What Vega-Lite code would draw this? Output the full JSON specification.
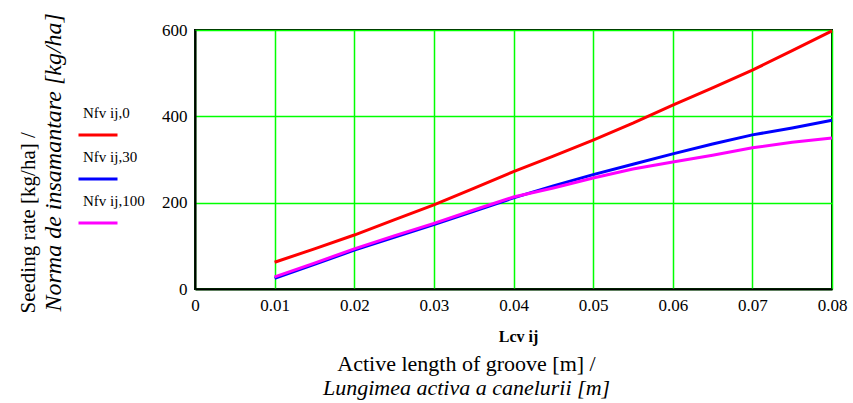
{
  "$schema": "https://vega.github.io/schema/vega-lite/v6.json",
  "width": 637,
  "height": 259,
  "autosize": {"type": "none"},
  "padding": {"left": 195, "top": 30, "right": 21, "bottom": 114},
  "background": "white",
  "config": {
    "font": "Liberation Serif",
    "view": {"stroke": "#000000", "strokeWidth": 2},
    "axis": {"labelFont": "Liberation Serif", "titleFont": "Liberation Serif", "labelColor": "#000", "titleColor": "#000", "titleFontWeight": "normal"}
  },
  "title": {
    "text": "Active length of groove [m] /",
    "subtitle": "Lungimea activa a canelurii [m]",
    "orient": "bottom",
    "anchor": "middle",
    "dx": -47,
    "offset": 10,
    "font": "Liberation Serif",
    "fontSize": 22,
    "fontWeight": "normal",
    "color": "#000",
    "subtitleFont": "Liberation Serif",
    "subtitleFontSize": 22,
    "subtitleFontStyle": "italic",
    "subtitleColor": "#000",
    "subtitlePadding": 2
  },
  "data": {
    "values": [
      {"L": 0.01, "s": "Nfv ij,0", "N": 62}, {"L": 0.015, "s": "Nfv ij,0", "N": 93}, {"L": 0.02, "s": "Nfv ij,0", "N": 125}, {"L": 0.025, "s": "Nfv ij,0", "N": 160}, {"L": 0.03, "s": "Nfv ij,0", "N": 195}, {"L": 0.035, "s": "Nfv ij,0", "N": 233}, {"L": 0.04, "s": "Nfv ij,0", "N": 272}, {"L": 0.045, "s": "Nfv ij,0", "N": 308}, {"L": 0.05, "s": "Nfv ij,0", "N": 345}, {"L": 0.055, "s": "Nfv ij,0", "N": 384}, {"L": 0.06, "s": "Nfv ij,0", "N": 426}, {"L": 0.065, "s": "Nfv ij,0", "N": 466}, {"L": 0.07, "s": "Nfv ij,0", "N": 507}, {"L": 0.075, "s": "Nfv ij,0", "N": 552}, {"L": 0.08, "s": "Nfv ij,0", "N": 598},
      {"L": 0.01, "s": "Nfv ij,30", "N": 25}, {"L": 0.015, "s": "Nfv ij,30", "N": 57}, {"L": 0.02, "s": "Nfv ij,30", "N": 90}, {"L": 0.025, "s": "Nfv ij,30", "N": 120}, {"L": 0.03, "s": "Nfv ij,30", "N": 149}, {"L": 0.035, "s": "Nfv ij,30", "N": 180}, {"L": 0.04, "s": "Nfv ij,30", "N": 211}, {"L": 0.045, "s": "Nfv ij,30", "N": 239}, {"L": 0.05, "s": "Nfv ij,30", "N": 265}, {"L": 0.055, "s": "Nfv ij,30", "N": 289}, {"L": 0.06, "s": "Nfv ij,30", "N": 313}, {"L": 0.065, "s": "Nfv ij,30", "N": 336}, {"L": 0.07, "s": "Nfv ij,30", "N": 357}, {"L": 0.075, "s": "Nfv ij,30", "N": 373}, {"L": 0.08, "s": "Nfv ij,30", "N": 391},
      {"L": 0.01, "s": "Nfv ij,100", "N": 28}, {"L": 0.015, "s": "Nfv ij,100", "N": 60}, {"L": 0.02, "s": "Nfv ij,100", "N": 93}, {"L": 0.025, "s": "Nfv ij,100", "N": 123}, {"L": 0.03, "s": "Nfv ij,100", "N": 152}, {"L": 0.035, "s": "Nfv ij,100", "N": 183}, {"L": 0.04, "s": "Nfv ij,100", "N": 213}, {"L": 0.045, "s": "Nfv ij,100", "N": 234}, {"L": 0.05, "s": "Nfv ij,100", "N": 257}, {"L": 0.055, "s": "Nfv ij,100", "N": 278}, {"L": 0.06, "s": "Nfv ij,100", "N": 294}, {"L": 0.065, "s": "Nfv ij,100", "N": 310}, {"L": 0.07, "s": "Nfv ij,100", "N": 327}, {"L": 0.075, "s": "Nfv ij,100", "N": 340}, {"L": 0.08, "s": "Nfv ij,100", "N": 350}
    ]
  },
  "layer": [
    {
      "mark": {"type": "line", "strokeWidth": 3},
      "encoding": {
        "x": {
          "field": "L", "type": "quantitative",
          "scale": {"domain": [0, 0.08], "nice": false, "zero": false},
          "axis": {
            "values": [0, 0.01, 0.02, 0.03, 0.04, 0.05, 0.06, 0.07, 0.08],
            "format": ".2~f",
            "labelFont": "Liberation Serif",
            "labelFontSize": 17, "labelPadding": 8, "labelFlush": false, "labelOverlap": false,
            "ticks": false,
            "domainColor": "#000", "domainWidth": 2,
            "grid": true, "gridColor": "#00ff00", "gridWidth": 1.5, "gridOpacity": 1,
            "title": "Lcv ij", "titleFont": "Liberation Serif", "titleFontSize": 16, "titleFontWeight": "bold",
            "titleX": 323, "titleY": 39, "titleBaseline": "top"
          }
        },
        "y": {
          "field": "N", "type": "quantitative",
          "scale": {"domain": [0, 600], "nice": false},
          "axis": {
            "values": [0, 200, 400, 600],
            "labelFont": "Liberation Serif",
            "labelFontSize": 17, "labelPadding": 8, "labelFlush": false, "labelOverlap": false,
            "ticks": false,
            "domainColor": "#000", "domainWidth": 2,
            "grid": true, "gridColor": "#00ff00", "gridWidth": 1.5, "gridOpacity": 1,
            "title": "Seeding rate [kg/ha] /", "titleFont": "Liberation Serif", "titleFontSize": 21,
            "titleAngle": -90, "titleAlign": "left", "titleBaseline": "middle",
            "titleX": -167, "titleY": 283
          }
        },
        "color": {
          "field": "s", "type": "nominal",
          "scale": {"domain": ["Nfv ij,0", "Nfv ij,30", "Nfv ij,100"], "range": ["#ff0000", "#0000ff", "#ff00ff"]},
          "legend": {
            "orient": "none", "legendX": -118, "legendY": 84,
            "title": null, "padding": 0,
            "symbolType": "stroke", "symbolSize": 1521, "symbolStrokeWidth": 3,
            "labelFont": "Liberation Serif", "labelFontSize": 15, "labelColor": "#000",
            "labelOffset": -36, "labelBaseline": "middle",
            "rowPadding": 9,
            "encode": {"labels": {"update": {"dy": {"value": -22}}}}
          }
        }
      }
    },
    {
      "mark": {"type": "point", "opacity": 0},
      "encoding": {
        "x": {"field": "L", "type": "quantitative"},
        "y": {
          "field": "N", "type": "quantitative",
          "axis": {
            "orient": "left", "labels": false, "ticks": false, "domain": false, "grid": false,
            "title": "Norma de insamantare [kg/ha]", "titleFont": "Liberation Serif", "titleFontSize": 24, "titleFontStyle": "italic",
            "titleAngle": -90, "titleAlign": "left", "titleBaseline": "middle",
            "titleX": -142, "titleY": 281
          }
        }
      }
    }
  ],
  "resolve": {"axis": {"y": "independent"}}
}
